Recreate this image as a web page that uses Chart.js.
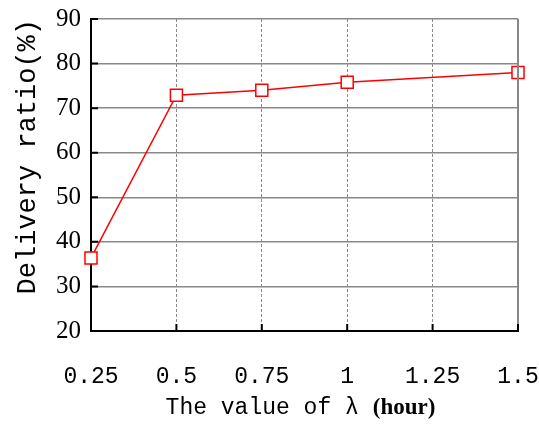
<!DOCTYPE html>
<html>
<head>
<meta charset="utf-8">
<script src="https://cdn.jsdelivr.net/npm/chart.js@4"></script>
<style>
  html, body { margin: 0; padding: 0; background: #fff; }
  #wrap { width: 539px; height: 425px; }
</style>
</head>
<body>
<div id="wrap"><canvas id="myChart" width="539" height="425"></canvas></div>
<script>
const ctx = document.getElementById('myChart').getContext('2d');

const lambdas = [0.25, 0.5, 0.75, 1, 1.5];
const ratios = [36.4, 72.9, 74.0, 75.8, 78.0];
const xTicks = ["0.25", "0.5", "0.75", "1", "1.25", "1.5"];
const yTicks = [20, 30, 40, 50, 60, 70, 80, 90];

// right border + inward tick marks + two-font x title
const extras = {
    id: 'extras',
    afterDraw(chart) {
        const c = chart.ctx;
        const a = chart.chartArea;
        const xs = chart.scales.x, ys = chart.scales.y;
        c.save();
        c.strokeStyle = '#888';
        c.lineWidth = 2;
        c.beginPath();
        c.moveTo(a.right, a.top);
        c.lineTo(a.right, a.bottom);
        c.stroke();

        c.strokeStyle = '#000';
        c.lineWidth = 2;
        c.beginPath();
        yTicks.forEach(v => {
            const y = ys.getPixelForValue(v);
            c.moveTo(a.left, y);
            c.lineTo(a.left + 7, y);
        });
        xTicks.forEach(t => {
            const x = xs.getPixelForValue(parseFloat(t));
            c.moveTo(x, a.bottom);
            c.lineTo(x, a.bottom - 7);
        });
        c.stroke();

        c.fillStyle = '#000';
        c.textBaseline = 'alphabetic';
        const part1 = 'The value of λ';
        c.font = '23px "Liberation Mono"';
        const w1 = c.measureText(part1).width;
        const part2 = '(hour)';
        c.font = 'bold 23px "Liberation Serif"';
        const w2 = c.measureText(part2).width;
        const gap = 14;
        const x0 = (a.left + a.right) / 2 - (w1 + gap + w2) / 2 - 4;
        const y0 = 414;
        c.font = '23px "Liberation Mono"';
        c.fillText(part1, x0, y0);
        c.font = 'bold 23px "Liberation Serif"';
        c.fillText(part2, x0 + w1 + gap, y0);
        c.restore();
    }
};

const data = {
    datasets: [{
        data: lambdas.map((x, i) => ({ x: x, y: ratios[i] })),
        borderColor: "#ff0000",
        backgroundColor: "#fff",
        borderWidth: 1.5,
        clip: false,
        pointStyle: 'rect',
        pointRadius: 8.5,
        pointHoverRadius: 8.5,
        pointBorderWidth: 1.5,
        pointBackgroundColor: '#fff',
        pointBorderColor: '#ff0000',
        tension: 0
    }]
};

const config = {
    type: "line",
    data: data,
    plugins: [extras],
    options: {
        responsive: false,
        animation: false,
        layout: { padding: { top: 19, right: 21, bottom: 0, left: 0 } },
        plugins: {
            legend: { display: false },
            tooltip: { enabled: false }
        },
        scales: {
            x: {
                type: 'linear',
                min: 0.25,
                max: 1.5,
                afterBuildTicks: s => { s.ticks = xTicks.map(t => ({ value: parseFloat(t) })); },
                afterFit: s => { s.height = 94; s.paddingLeft = 0; s.paddingRight = 0; },
                ticks: {
                    color: '#000',
                    font: { family: '"Liberation Mono"', size: 23 },
                    padding: 32,
                    maxRotation: 0,
                    callback: (v, i) => xTicks[i]
                },
                grid: { color: '#888', lineWidth: 1, drawTicks: false },
                border: { color: '#000', width: 2, dash: [3, 2] }
            },
            y: {
                min: 20,
                max: 90,
                afterBuildTicks: s => { s.ticks = yTicks.map(v => ({ value: v })); },
                afterFit: s => { s.width = 91; s.paddingTop = 0; s.paddingBottom = 0; },
                ticks: {
                    color: '#000',
                    font: { family: '"Liberation Serif"', size: 25 },
                    padding: 10
                },
                grid: { color: '#888', lineWidth: 1.5, drawTicks: false },
                border: { color: '#000', width: 2 },
                title: {
                    display: true,
                    align: 'end',
                    text: 'Delivery ratio(%)',
                    color: '#000',
                    font: { family: '"Liberation Mono"', size: 27 },
                    padding: { top: 12, bottom: 4 }
                }
            }
        }
    }
};

const myChart = new Chart(ctx, config);
</script>
</body>
</html>
